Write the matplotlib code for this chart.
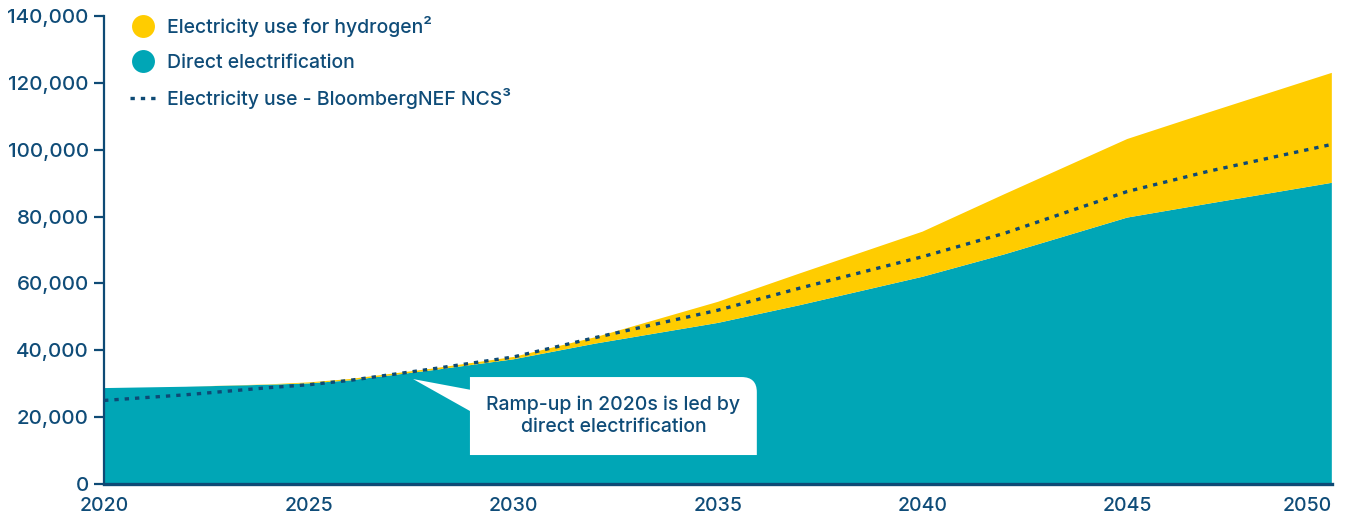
import numpy as np
import matplotlib
matplotlib.use('Agg')
import matplotlib.pyplot as plt
from matplotlib.lines import Line2D
from matplotlib.path import Path
from matplotlib.patches import PathPatch, Polygon

plt.rcParams['font.family'] = ['Inter', 'DejaVu Sans']
plt.rcParams['font.weight'] = 'medium'

# Data
years = [2020, 2022, 2024, 2025, 2026, 2028, 2030, 2032, 2035, 2037, 2040, 2042, 2045, 2047, 2050]
direct = [28700, 29100, 29700, 30100, 31000, 34000, 37300, 42000, 48200, 53500,
          62000, 68700, 79700, 83900, 90100]
hydrogen = [0, 0, 100, 300, 400, 500, 700, 1900, 6300, 9500,
            13500, 18000, 23500, 27300, 32900]
bnef = [25000, 26700, 28800, 29700, 31000, 34400, 38000, 43800, 52000, 58600,
        68000, 75000, 87500, 93600, 101600]

xticks = [2020, 2025, 2030, 2035, 2040, 2045, 2050]
yticks = [0, 20000, 40000, 60000, 80000, 100000, 120000, 140000]

TEAL = '#00A6B6'
YELLOW = '#FFCC00'
NAVY = '#0E4A75'
TXT = '#0F4C78'

fig = plt.figure(figsize=(13.48, 5.18), dpi=100)
ax = fig.add_axes([0.0772, 0.0656, 0.9108, 0.9035])

ax.stackplot(years, direct, hydrogen, colors=[TEAL, YELLOW], linewidth=0)
ax.plot(years, bnef, color=NAVY, lw=2.4, dashes=(1.3, 1.8))

ax.set_xlim(2020, 2050)
ax.set_ylim(0, 140000)
ax.set_xticks(xticks)
ax.set_yticks(yticks)
ax.set_yticklabels(['{:,}'.format(v) for v in yticks])

for s in ['top', 'right']:
    ax.spines[s].set_visible(False)
ax.spines['left'].set_color(NAVY)
ax.spines['left'].set_linewidth(1.6)
ax.spines['bottom'].set_color(NAVY)
ax.spines['bottom'].set_linewidth(2.4)
ax.tick_params(axis='y', colors=NAVY, labelcolor=TXT, length=7, width=1.6,
               labelsize=14.8, pad=4)
ax.tick_params(axis='x', length=0, labelcolor=TXT, labelsize=14, pad=9)
ax.get_xticklabels()[-1].set_horizontalalignment('right')
ax.get_xticklabels()[-1].set_x(2050)

# Legend
handles = [
    Line2D([], [], marker='o', color='none', markerfacecolor=YELLOW,
           markeredgecolor='none', markersize=16.5),
    Line2D([], [], marker='o', color='none', markerfacecolor=TEAL,
           markeredgecolor='none', markersize=16.5),
    Line2D([], [], color=NAVY, lw=2.4, dashes=(1.3, 1.8)),
]
labels = ['Electricity use for hydrogen\u00b2', 'Direct electrification',
          'Electricity use - BloombergNEF NCS\u00b3']
leg = ax.legend(handles, labels, loc='upper left', bbox_to_anchor=(0.007, 1.037),
                frameon=False, fontsize=14, handlelength=1.3, handletextpad=0.6,
                labelspacing=0.85)
for t in leg.get_texts():
    t.set_color(TXT)

# Callout box with pointer and rounded top-right corner
x0, x1 = 2028.94, 2035.95
y0, y1 = 8670, 32000
rx, ry = 0.37, 4500
verts = [(x0, y0), (x0, y1), (x1 - rx, y1), (x1, y1), (x1, y1 - ry),
         (x1, y0), (x0, y0)]
codes = [Path.MOVETO, Path.LINETO, Path.LINETO, Path.CURVE3, Path.CURVE3,
         Path.LINETO, Path.CLOSEPOLY]
ax.add_patch(PathPatch(Path(verts, codes), facecolor='white', edgecolor='none', zorder=3))
ax.add_patch(Polygon([(2027.55, 31400), (x0 + 0.05, 28100), (x0 + 0.05, 21500)],
                     closed=True, facecolor='white', edgecolor='none', zorder=3))
ax.text((x0 + x1) / 2, (y0 + y1) / 2, 'Ramp-up in 2020s is led by\ndirect electrification',
        ha='center', va='center', fontsize=14, color=TXT, linespacing=1.3, zorder=4)

fig.savefig('out.png', dpi=100)
